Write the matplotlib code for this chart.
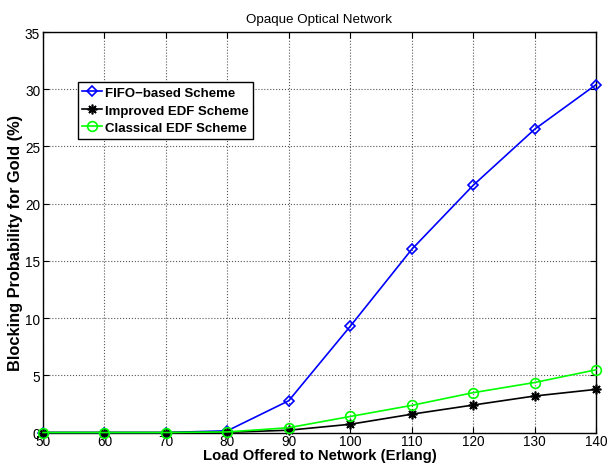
import matplotlib.pyplot as plt

# Offered load (Erlang)
load = [50, 60, 70, 80, 90, 100, 110, 120, 130, 140]

# Blocking probability for Gold (%)
fifo = [0.0, 0.0, 0.0, 0.15, 2.78, 9.28, 16.0, 21.6, 26.5, 30.4]
improved_edf = [0.0, 0.0, 0.0, 0.02, 0.2, 0.72, 1.6, 2.4, 3.19, 3.77]
classical_edf = [0.0, 0.0, 0.0, 0.05, 0.42, 1.4, 2.37, 3.48, 4.37, 5.48]

plt.rcParams['font.family'] = ['Liberation Sans', 'DejaVu Sans']

fig = plt.figure(figsize=(6.08, 4.64), dpi=100)
ax = fig.add_axes([0.0707, 0.0657, 0.9095, 0.863])

ax.plot(load, fifo, color='#0000ff', marker='D', markersize=5.5, markerfacecolor='none',
        markeredgewidth=1.2, linewidth=1.2, label='FIFO\u2212based Scheme', clip_on=False, zorder=3)
ax.plot(load, improved_edf, color='black', marker=(8, 2, 0), markersize=7,
        markeredgewidth=1.2, linewidth=1.2, label='Improved EDF Scheme', clip_on=False, zorder=3)
ax.plot(load, classical_edf, color='#00ff00', marker='o', markersize=7, markerfacecolor='none',
        markeredgewidth=1.2, linewidth=1.2, label='Classical EDF Scheme', clip_on=False, zorder=3)

ax.set_xlim(50, 140)
ax.set_ylim(0, 35)
ax.set_xticks(range(50, 141, 10))
ax.set_yticks(range(0, 36, 5))
ax.tick_params(direction='in', labelsize=9.8, top=True, right=True, length=4, pad=2)
ax.tick_params(axis='x', pad=1)
ax.grid(True, linestyle=':', color='#555555', linewidth=0.8)
for s in ax.spines.values():
    s.set_linewidth(1.0)

ax.set_title('Opaque Optical Network', fontsize=9.6, pad=7)
ax.set_xlabel('Load Offered to Network (Erlang)', fontsize=10.7, fontweight='bold')
ax.set_ylabel('Blocking Probability for Gold (%)', fontsize=11.8, fontweight='bold')
ax.xaxis.set_label_coords(0.5, -0.039)
ax.yaxis.set_label_coords(-0.037, 0.475)

leg = ax.legend(loc='upper left', bbox_to_anchor=(0.063, 0.875), fancybox=False, framealpha=1,
                edgecolor='black', prop={'weight': 'bold', 'size': 9.5}, handlelength=1.5,
                borderpad=0.35, labelspacing=0.4, handletextpad=0.2, borderaxespad=0)
leg.get_frame().set_linewidth(1.0)

fig.savefig('out.png', dpi=100)
